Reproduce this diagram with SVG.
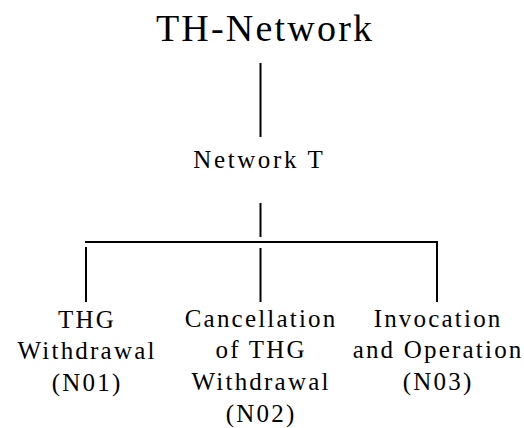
<svg xmlns="http://www.w3.org/2000/svg" width="524" height="428" viewBox="0 0 524 428">
<style>
text{font-family:"Liberation Serif","Times New Roman",serif;fill:#000;text-anchor:middle}
.title{font-size:38px;letter-spacing:2.2px}
.mid{font-size:25px;letter-spacing:2.6px}
.leaf{font-size:25px;letter-spacing:2.2px}
.conn line{stroke:#000;stroke-width:2;fill:none}
</style>
<rect width="524" height="428" fill="#fff"/>
<g id="connectors" class="conn">
<line x1="260.5" y1="63" x2="260.5" y2="137"/>
<line x1="260.5" y1="203" x2="260.5" y2="237"/>
<line x1="85" y1="242" x2="438" y2="242"/>
<line x1="86" y1="247" x2="86" y2="302"/>
<line x1="260.5" y1="248" x2="260.5" y2="302"/>
<line x1="437" y1="241" x2="437" y2="302"/>
</g>
<g id="node-root"><text class="title" x="265.1" y="41">TH-Network</text></g>
<g id="node-networkT"><text class="mid" x="259.3" y="168">Network T</text></g>
<g id="node-N01">
<text class="leaf" x="87.1" y="328">THG</text>
<text class="leaf" x="87.1" y="359">Withdrawal</text>
<text class="leaf" x="87.1" y="391">(N01)</text>
</g>
<g id="node-N02">
<text class="leaf" x="261.1" y="327">Cancellation</text>
<text class="leaf" x="261.1" y="358">of THG</text>
<text class="leaf" x="261.1" y="390">Withdrawal</text>
<text class="leaf" x="261.1" y="422">(N02)</text>
</g>
<g id="node-N03">
<text class="leaf" x="438.1" y="327">Invocation</text>
<text class="leaf" x="438.1" y="358">and Operation</text>
<text class="leaf" x="438.1" y="390">(N03)</text>
</g>
</svg>
